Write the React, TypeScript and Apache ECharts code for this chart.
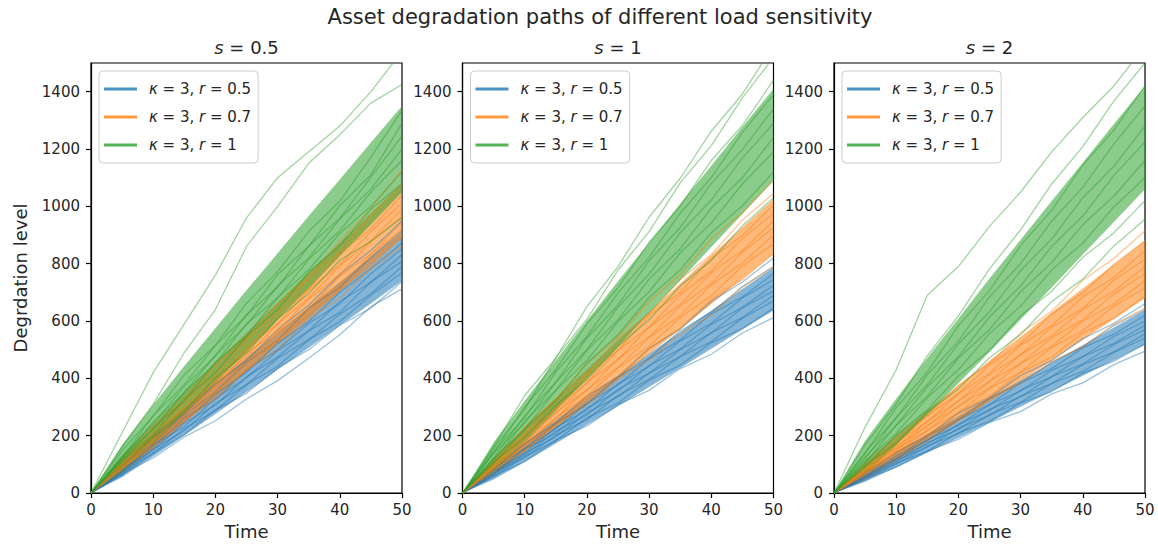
import React, { useEffect, useRef } from 'react';
import * as echarts from 'echarts';

// ---------- data ----------
const TIME = [0, 5, 10, 15, 20, 25, 30, 35, 40, 45, 50];
const X_TICKS = [0, 10, 20, 30, 40, 50];
const Y_TICKS = [0, 200, 400, 600, 800, 1000, 1200, 1400];
const PANEL_S = ['0.5', '1', '2'];
const LEGEND_R = ['0.5', '0.7', '1'];
const LEGEND_KAPPA = '3';

// s = 0.5  (LO / HI = dense core of each bundle)
const S05_BLUE_LO = [0, 55, 127, 201, 276, 352, 430, 507, 584, 661, 740];
const S05_BLUE_HI = [0, 109, 203, 295, 384, 472, 560, 649, 736, 823, 910];
const S05_BLUE_PATHS = [
  [0, 88, 192, 276, 381, 462, 570, 655, 762, 846, 950],
  [0, 96, 172, 270, 352, 455, 532, 644, 718, 822, 915],
  [0, 76, 168, 250, 344, 421, 522, 598, 700, 782, 872],
  [0, 84, 158, 262, 326, 428, 500, 592, 660, 765, 852],
  [0, 70, 166, 232, 330, 402, 496, 566, 668, 735, 832],
  [0, 80, 150, 244, 306, 405, 474, 565, 630, 736, 808],
  [0, 66, 152, 218, 312, 378, 470, 535, 624, 695, 790],
  [0, 75, 138, 224, 288, 378, 442, 534, 598, 690, 768],
  [0, 62, 140, 204, 290, 348, 436, 500, 585, 645, 738],
  [0, 68, 122, 196, 252, 328, 392, 470, 552, 650, 712],
];
const S05_ORANGE_LO = [0, 68, 154, 244, 334, 425, 518, 610, 703, 796, 890];
const S05_ORANGE_HI = [0, 128, 240, 348, 454, 559, 664, 770, 873, 976, 1080];
const S05_ORANGE_PATHS = [
  [0, 104, 230, 322, 446, 540, 660, 752, 878, 992, 1128],
  [0, 112, 204, 322, 412, 535, 632, 750, 840, 968, 1080],
  [0, 96, 210, 296, 400, 498, 622, 712, 836, 922, 1040],
  [0, 102, 190, 300, 386, 508, 590, 708, 796, 912, 1010],
  [0, 92, 196, 280, 390, 476, 590, 680, 792, 880, 990],
  [0, 98, 182, 288, 370, 488, 565, 676, 762, 876, 965],
  [0, 86, 186, 266, 376, 455, 562, 642, 756, 834, 945],
  [0, 94, 170, 272, 352, 456, 532, 640, 720, 832, 920],
  [0, 82, 176, 250, 352, 430, 532, 620, 712, 790, 895],
  [0, 88, 160, 256, 328, 428, 502, 606, 680, 782, 862],
];
const S05_GREEN_LO = [0, 72, 172, 277, 385, 493, 604, 714, 826, 937, 1050];
const S05_GREEN_HI = [0, 168, 308, 443, 575, 707, 836, 966, 1094, 1223, 1350];
const S05_GREEN_PATHS = [
  [0, 210, 420, 590, 760, 960, 1100, 1190, 1280, 1400, 1540],
  [0, 160, 310, 490, 640, 860, 1000, 1150, 1250, 1360, 1425],
  [0, 148, 268, 412, 515, 662, 772, 912, 1018, 1172, 1335],
  [0, 122, 270, 378, 515, 618, 762, 860, 1002, 1110, 1290],
  [0, 130, 242, 372, 478, 622, 718, 862, 958, 1102, 1245],
  [0, 116, 248, 350, 480, 586, 722, 820, 956, 1060, 1200],
  [0, 124, 222, 352, 452, 590, 680, 815, 915, 1050, 1160],
  [0, 108, 226, 322, 456, 548, 682, 778, 906, 1000, 1120],
  [0, 114, 204, 326, 420, 546, 640, 770, 862, 990, 1080],
  [0, 96, 196, 282, 402, 488, 608, 696, 812, 878, 960],
];

// s = 1
const S1_BLUE_LO = [0, 47, 108, 173, 238, 303, 370, 436, 503, 570, 637];
const S1_BLUE_HI = [0, 95, 176, 255, 332, 409, 486, 562, 637, 712, 787];
const S1_BLUE_PATHS = [
  [0, 78, 172, 244, 338, 406, 504, 572, 668, 736, 820],
  [0, 84, 154, 242, 310, 404, 470, 566, 630, 720, 790],
  [0, 70, 156, 224, 312, 378, 468, 534, 624, 684, 765],
  [0, 78, 140, 228, 290, 380, 442, 530, 592, 680, 745],
  [0, 66, 152, 208, 296, 356, 444, 502, 588, 648, 725],
  [0, 72, 132, 216, 272, 362, 418, 500, 558, 646, 705],
  [0, 62, 138, 196, 280, 336, 418, 476, 560, 612, 690],
  [0, 68, 122, 202, 256, 340, 396, 476, 528, 610, 670],
  [0, 56, 128, 182, 262, 314, 394, 446, 524, 574, 645],
  [0, 60, 110, 184, 234, 308, 358, 434, 484, 558, 612],
];
const S1_ORANGE_LO = [0, 63, 143, 227, 312, 398, 485, 571, 659, 747, 835];
const S1_ORANGE_HI = [0, 123, 229, 331, 432, 532, 631, 731, 829, 927, 1025];
const S1_ORANGE_PATHS = [
  [0, 104, 230, 326, 452, 545, 668, 762, 886, 978, 1090],
  [0, 110, 206, 326, 418, 538, 624, 745, 832, 952, 1045],
  [0, 98, 208, 294, 412, 498, 618, 700, 818, 898, 1005],
  [0, 102, 190, 298, 384, 498, 578, 692, 774, 888, 975],
  [0, 92, 196, 278, 386, 465, 578, 658, 768, 846, 950],
  [0, 96, 176, 282, 358, 468, 545, 652, 732, 840, 925],
  [0, 86, 182, 260, 362, 438, 542, 620, 726, 802, 900],
  [0, 90, 164, 262, 338, 436, 512, 612, 688, 792, 870],
  [0, 76, 168, 238, 336, 405, 505, 575, 675, 745, 835],
  [0, 82, 148, 238, 306, 396, 464, 556, 622, 718, 790],
];
const S1_GREEN_LO = [0, 74, 178, 287, 399, 511, 627, 741, 858, 973, 1090];
const S1_GREEN_HI = [0, 176, 322, 463, 601, 739, 873, 1009, 1142, 1277, 1410];
const S1_GREEN_PATHS = [
  [0, 162, 340, 470, 650, 790, 962, 1098, 1262, 1392, 1560],
  [0, 156, 292, 472, 606, 778, 912, 1082, 1212, 1378, 1520],
  [0, 138, 300, 430, 590, 716, 874, 1000, 1160, 1282, 1440],
  [0, 146, 262, 422, 546, 698, 822, 976, 1100, 1258, 1390],
  [0, 122, 270, 386, 540, 656, 810, 926, 1080, 1198, 1340],
  [0, 138, 244, 386, 500, 648, 764, 908, 1022, 1168, 1290],
  [0, 112, 250, 358, 498, 604, 746, 852, 994, 1100, 1240],
  [0, 120, 222, 358, 462, 598, 702, 838, 942, 1078, 1190],
  [0, 102, 222, 322, 452, 552, 682, 778, 908, 1002, 1120],
  [0, 108, 194, 306, 396, 512, 604, 722, 812, 932, 1030],
];

// s = 2
const S2_BLUE_LO = [0, 39, 89, 140, 193, 246, 301, 355, 409, 463, 518];
const S2_BLUE_HI = [0, 77, 143, 206, 269, 332, 393, 455, 515, 577, 638];
const S2_BLUE_PATHS = [
  [0, 66, 142, 200, 278, 332, 410, 462, 538, 592, 660],
  [0, 68, 124, 198, 256, 330, 384, 456, 510, 584, 640],
  [0, 58, 130, 182, 256, 308, 384, 434, 506, 554, 620],
  [0, 62, 118, 186, 236, 308, 356, 428, 476, 546, 600],
  [0, 56, 120, 170, 240, 288, 358, 406, 476, 522, 585],
  [0, 59, 108, 175, 222, 292, 336, 406, 450, 518, 570],
  [0, 50, 114, 160, 226, 270, 338, 382, 448, 492, 555],
  [0, 55, 100, 164, 208, 274, 316, 382, 424, 490, 540],
  [0, 46, 104, 146, 210, 250, 314, 354, 418, 460, 520],
  [0, 50, 90, 146, 188, 246, 284, 346, 384, 448, 495],
];
const S2_ORANGE_LO = [0, 46, 111, 179, 249, 319, 391, 462, 535, 607, 680];
const S2_ORANGE_HI = [0, 110, 201, 289, 375, 461, 545, 630, 713, 797, 880];
const S2_ORANGE_PATHS = [
  [0, 88, 192, 268, 376, 452, 558, 634, 742, 818, 915],
  [0, 95, 172, 270, 346, 446, 520, 624, 698, 798, 880],
  [0, 80, 176, 248, 346, 418, 516, 584, 684, 752, 845],
  [0, 86, 158, 250, 320, 414, 482, 578, 644, 742, 815],
  [0, 74, 164, 232, 322, 390, 482, 548, 640, 704, 790],
  [0, 81, 148, 236, 300, 390, 452, 542, 604, 694, 765],
  [0, 68, 154, 216, 304, 366, 452, 512, 600, 660, 740],
  [0, 76, 138, 220, 280, 364, 422, 508, 566, 652, 715],
  [0, 63, 144, 200, 282, 338, 420, 474, 558, 610, 685],
  [0, 69, 124, 200, 254, 330, 382, 458, 510, 588, 645],
];
const S2_GREEN_LO = [0, 66, 167, 273, 383, 492, 605, 717, 832, 945, 1060];
const S2_GREEN_HI = [0, 182, 329, 471, 609, 748, 883, 1019, 1152, 1287, 1420];
const S2_GREEN_PATHS = [
  [0, 230, 430, 690, 790, 930, 1050, 1190, 1310, 1420, 1560],
  [0, 168, 310, 478, 618, 782, 918, 1078, 1208, 1368, 1500],
  [0, 138, 298, 422, 584, 706, 864, 986, 1144, 1266, 1420],
  [0, 142, 262, 412, 530, 684, 800, 948, 1066, 1218, 1350],
  [0, 120, 262, 378, 520, 632, 776, 886, 1030, 1140, 1280],
  [0, 126, 236, 370, 476, 614, 722, 860, 966, 1108, 1225],
  [0, 104, 236, 338, 470, 570, 702, 804, 936, 1036, 1160],
  [0, 112, 208, 332, 430, 556, 652, 778, 872, 998, 1100],
  [0, 90, 202, 290, 408, 498, 618, 704, 822, 908, 1020],
  [0, 96, 174, 282, 364, 472, 552, 668, 746, 862, 955],
];

// ---------- styling ----------
const FONT = "'DejaVu Sans', 'Noto Sans', sans-serif";
const TEXT = '#262626';
const COLORS = ['#1f77b4', '#ff7f0e', '#2ca02c'];
const LEGEND_COLORS = ['rgba(31,119,180,0.8)', 'rgba(255,127,14,0.8)', 'rgba(44,160,44,0.8)'];
const GRID_LEFTS = [91, 462.5, 834];
const GRID_TOP = 63;
const GRID_W = 311;
const GRID_H = 430;

export default function App() {
  const ref = useRef<HTMLDivElement>(null);

  useEffect(() => {
    document.body.style.margin = '0';
    const chart = echarts.init(ref.current as HTMLDivElement, null, { renderer: 'svg' });

    const panels = [
      [
        [S05_BLUE_LO, S05_BLUE_HI, S05_BLUE_PATHS],
        [S05_ORANGE_LO, S05_ORANGE_HI, S05_ORANGE_PATHS],
        [S05_GREEN_LO, S05_GREEN_HI, S05_GREEN_PATHS],
      ],
      [
        [S1_BLUE_LO, S1_BLUE_HI, S1_BLUE_PATHS],
        [S1_ORANGE_LO, S1_ORANGE_HI, S1_ORANGE_PATHS],
        [S1_GREEN_LO, S1_GREEN_HI, S1_GREEN_PATHS],
      ],
      [
        [S2_BLUE_LO, S2_BLUE_HI, S2_BLUE_PATHS],
        [S2_ORANGE_LO, S2_ORANGE_HI, S2_ORANGE_PATHS],
        [S2_GREEN_LO, S2_GREEN_HI, S2_GREEN_PATHS],
      ],
    ] as any[];

    const legendNames = LEGEND_R.map((r) => `r${r}`);
    const legendLabel: Record<string, string> = {};
    LEGEND_R.forEach((r) => {
      legendLabel[`r${r}`] = `{i|κ} = ${LEGEND_KAPPA}, {i|r} = ${r}`;
    });

    const series: any[] = [];
    panels.forEach((groups: any[], p: number) => {
      groups.forEach((grp: any[], g: number) => {
        const [lo, hi, paths] = grp as [number[], number[], number[][]];
        const color = COLORS[g];
        // dense core of the path bundle, drawn as a polygon between the lo and hi arrays
        series.push({
          type: 'custom',
          xAxisIndex: p,
          yAxisIndex: p,
          silent: true,
          data: [[0, 0]],
          renderItem: (_params: any, api: any) => {
            const upper = TIME.map((t, k) => api.coord([t, hi[k]]));
            const lower = TIME.map((t, k) => api.coord([t, lo[k]])).reverse();
            return {
              type: 'polygon',
              shape: { points: upper.concat(lower) },
              style: { fill: color, opacity: 0.55 },
            };
          },
        });
        paths.forEach((path) => {
          series.push({
            type: 'line',
            xAxisIndex: p,
            yAxisIndex: p,
            data: TIME.map((t, k) => [t, path[k]]),
            symbol: 'none',
            silent: true,
            lineStyle: { color, width: 1.3, opacity: 0.45 },
          });
        });
      });
    });
    legendNames.forEach((name, i) => {
      series.push({
        type: 'line',
        name,
        xAxisIndex: 0,
        yAxisIndex: 0,
        data: [],
        symbol: 'none',
        itemStyle: { color: LEGEND_COLORS[i] },
        lineStyle: { color: LEGEND_COLORS[i], width: 3 },
      });
    });

    const grid = GRID_LEFTS.map((left) => ({
      left,
      top: GRID_TOP,
      width: GRID_W,
      height: GRID_H,
      show: true,
      borderColor: '#000',
      borderWidth: 1.2,
      backgroundColor: 'transparent',
    }));

    const xAxis = GRID_LEFTS.map((_, p) => ({
      type: 'value',
      gridIndex: p,
      min: 0,
      max: 50,
      interval: 10,
      name: 'Time',
      nameLocation: 'middle',
      nameGap: 29,
      nameTextStyle: { fontFamily: FONT, fontSize: 18, color: TEXT },
      splitLine: { show: false },
      axisLine: { show: true, lineStyle: { color: '#000', width: 1.2 } },
      axisTick: { show: true, length: 5, lineStyle: { color: '#000', width: 1.2 } },
      axisLabel: {
        margin: 9,
        fontFamily: FONT,
        fontSize: 15,
        color: TEXT,
        customValues: X_TICKS,
        formatter: (v: number) => String(v),
      },
    }));

    const yAxis = GRID_LEFTS.map((_, p) => ({
      type: 'value',
      gridIndex: p,
      min: 0,
      max: 1500,
      interval: 100,
      name: p === 0 ? 'Degrdation level' : '',
      nameLocation: 'middle',
      nameGap: 62,
      nameTextStyle: { fontFamily: FONT, fontSize: 18, color: TEXT },
      splitLine: { show: false },
      axisLine: { show: true, lineStyle: { color: '#000', width: 1.2 } },
      axisTick: {
        show: true,
        length: 5,
        lineStyle: { color: '#000', width: 1.2 },
        customValues: Y_TICKS,
      },
      axisLabel: {
        margin: 11,
        fontFamily: FONT,
        fontSize: 15,
        color: TEXT,
        customValues: Y_TICKS,
        formatter: (v: number) => String(v),
      },
    }));

    const legend = GRID_LEFTS.map((left) => ({
      left: left + 8,
      top: 71,
      orient: 'vertical',
      data: legendNames,
      icon: 'rect',
      itemWidth: 33,
      itemHeight: 3,
      itemGap: 12,
      padding: [10, 7, 10, 5],
      backgroundColor: 'rgba(255,255,255,0.8)',
      borderColor: '#cccccc',
      borderWidth: 1,
      borderRadius: 4,
      selectedMode: false,
      formatter: (name: string) => legendLabel[name],
      textStyle: {
        fontFamily: FONT,
        fontSize: 15,
        color: TEXT,
        lineHeight: 16,
        padding: [0, 0, 0, 7],
        rich: {
          i: { fontFamily: FONT, fontSize: 15, fontStyle: 'italic', color: TEXT, lineHeight: 16 },
        },
      },
    }));

    const graphic: any[] = [
      {
        type: 'text',
        x: 600,
        y: 17,
        silent: true,
        style: {
          text: 'Asset degradation paths of different load sensitivity',
          fontFamily: FONT,
          fontSize: 21,
          fill: TEXT,
          align: 'center',
          verticalAlign: 'middle',
        },
      },
    ];
    GRID_LEFTS.forEach((left, p) => {
      graphic.push({
        type: 'text',
        x: left + GRID_W / 2,
        y: 47,
        silent: true,
        style: {
          text: `{i|s} = ${PANEL_S[p]}`,
          fontFamily: FONT,
          fontSize: 18,
          fill: TEXT,
          align: 'center',
          verticalAlign: 'middle',
          rich: { i: { fontFamily: FONT, fontSize: 18, fontStyle: 'italic', fill: TEXT } },
        },
      });
    });

    chart.setOption({
      animation: false,
      backgroundColor: '#ffffff',
      grid,
      xAxis,
      yAxis,
      legend,
      graphic,
      series,
    });

    return () => chart.dispose();
  }, []);

  return <div ref={ref} style={{ width: 1158, height: 546 }} />;
}
